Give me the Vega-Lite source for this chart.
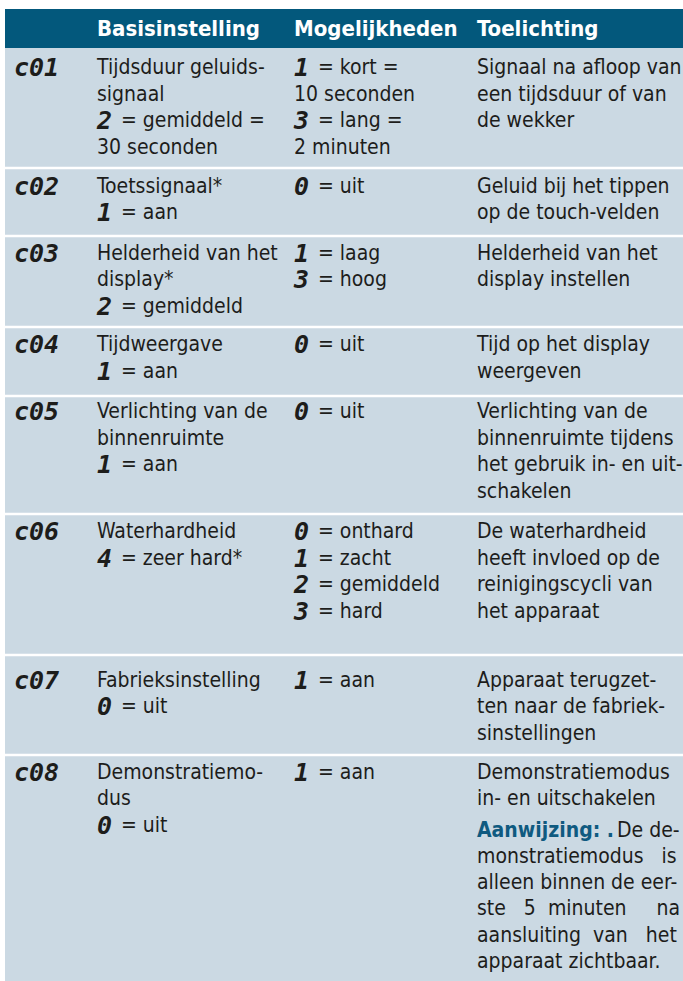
{
  "$schema": "https://vega.github.io/schema/vega-lite/v6.json",
  "width": 678,
  "height": 972,
  "autosize": {"type": "none"},
  "padding": {"left": 5, "top": 9, "right": 0, "bottom": 0},
  "background": "white",
  "config": {"view": {"stroke": null}},
  "datasets": {
    "rows": [
      {"setting": "header", "top": 0, "bottom": 1.47},
      {"setting": "c01", "top": 1.47, "bottom": 6.0},
      {"setting": "c02", "top": 6.0, "bottom": 8.57},
      {"setting": "c03", "top": 8.57, "bottom": 12.01},
      {"setting": "c04", "top": 12.01, "bottom": 14.61},
      {"setting": "c05", "top": 14.61, "bottom": 19.07},
      {"setting": "c06", "top": 19.07, "bottom": 24.39},
      {"setting": "c07", "top": 24.39, "bottom": 28.17},
      {"setting": "c08", "top": 28.17, "bottom": 36.7}
    ],
    "heads": [
      {"column": 1, "line": 0.74, "text": "Basisinstelling"},
      {"column": 2, "line": 0.74, "text": "Mogelijkheden"},
      {"column": 3, "line": 0.74, "text": "Toelichting"}
    ],
    "codes": [
      {"setting": "c01", "column": 0, "line": 2.23},
      {"setting": "c02", "column": 0, "line": 6.72},
      {"setting": "c03", "column": 0, "line": 9.25},
      {"setting": "c04", "column": 0, "line": 12.69},
      {"setting": "c05", "column": 0, "line": 15.22},
      {"setting": "c06", "column": 0, "line": 19.75},
      {"setting": "c07", "column": 0, "line": 25.37},
      {"setting": "c08", "column": 0, "line": 28.83}
    ],
    "cells": [
      {"setting": "c01", "column": 1, "line": 2.23, "digit": "", "lead": "", "text": "Tijdsduur geluids-"},
      {"setting": "c01", "column": 1, "line": 3.23, "digit": "", "lead": "", "text": "signaal"},
      {"setting": "c01", "column": 1, "line": 4.23, "digit": "2", "lead": "", "text": "= gemiddeld ="},
      {"setting": "c01", "column": 1, "line": 5.23, "digit": "", "lead": "", "text": "30 seconden"},
      {"setting": "c01", "column": 2, "line": 2.23, "digit": "1", "lead": "", "text": "= kort ="},
      {"setting": "c01", "column": 2, "line": 3.23, "digit": "", "lead": "", "text": "10 seconden"},
      {"setting": "c01", "column": 2, "line": 4.23, "digit": "3", "lead": "", "text": "= lang ="},
      {"setting": "c01", "column": 2, "line": 5.23, "digit": "", "lead": "", "text": "2 minuten"},
      {"setting": "c01", "column": 3, "line": 2.23, "digit": "", "lead": "", "text": "Signaal na afloop van"},
      {"setting": "c01", "column": 3, "line": 3.23, "digit": "", "lead": "", "text": "een tijdsduur of van"},
      {"setting": "c01", "column": 3, "line": 4.23, "digit": "", "lead": "", "text": "de wekker"},
      {"setting": "c02", "column": 1, "line": 6.72, "digit": "", "lead": "", "text": "Toetssignaal*"},
      {"setting": "c02", "column": 1, "line": 7.72, "digit": "1", "lead": "", "text": "= aan"},
      {"setting": "c02", "column": 2, "line": 6.72, "digit": "0", "lead": "", "text": "= uit"},
      {"setting": "c02", "column": 3, "line": 6.72, "digit": "", "lead": "", "text": "Geluid bij het tippen"},
      {"setting": "c02", "column": 3, "line": 7.72, "digit": "", "lead": "", "text": "op de touch-velden"},
      {"setting": "c03", "column": 1, "line": 9.25, "digit": "", "lead": "", "text": "Helderheid van het"},
      {"setting": "c03", "column": 1, "line": 10.25, "digit": "", "lead": "", "text": "display*"},
      {"setting": "c03", "column": 1, "line": 11.25, "digit": "2", "lead": "", "text": "= gemiddeld"},
      {"setting": "c03", "column": 2, "line": 9.25, "digit": "1", "lead": "", "text": "= laag"},
      {"setting": "c03", "column": 2, "line": 10.25, "digit": "3", "lead": "", "text": "= hoog"},
      {"setting": "c03", "column": 3, "line": 9.25, "digit": "", "lead": "", "text": "Helderheid van het"},
      {"setting": "c03", "column": 3, "line": 10.25, "digit": "", "lead": "", "text": "display instellen"},
      {"setting": "c04", "column": 1, "line": 12.69, "digit": "", "lead": "", "text": "Tijdweergave"},
      {"setting": "c04", "column": 1, "line": 13.69, "digit": "1", "lead": "", "text": "= aan"},
      {"setting": "c04", "column": 2, "line": 12.69, "digit": "0", "lead": "", "text": "= uit"},
      {"setting": "c04", "column": 3, "line": 12.69, "digit": "", "lead": "", "text": "Tijd op het display"},
      {"setting": "c04", "column": 3, "line": 13.69, "digit": "", "lead": "", "text": "weergeven"},
      {"setting": "c05", "column": 1, "line": 15.22, "digit": "", "lead": "", "text": "Verlichting van de"},
      {"setting": "c05", "column": 1, "line": 16.22, "digit": "", "lead": "", "text": "binnenruimte"},
      {"setting": "c05", "column": 1, "line": 17.22, "digit": "1", "lead": "", "text": "= aan"},
      {"setting": "c05", "column": 2, "line": 15.22, "digit": "0", "lead": "", "text": "= uit"},
      {"setting": "c05", "column": 3, "line": 15.22, "digit": "", "lead": "", "text": "Verlichting van de"},
      {"setting": "c05", "column": 3, "line": 16.22, "digit": "", "lead": "", "text": "binnenruimte tijdens"},
      {"setting": "c05", "column": 3, "line": 17.22, "digit": "", "lead": "", "text": "het gebruik in- en uit-"},
      {"setting": "c05", "column": 3, "line": 18.22, "digit": "", "lead": "", "text": "schakelen"},
      {"setting": "c06", "column": 1, "line": 19.75, "digit": "", "lead": "", "text": "Waterhardheid"},
      {"setting": "c06", "column": 1, "line": 20.75, "digit": "4", "lead": "", "text": "= zeer hard*"},
      {"setting": "c06", "column": 2, "line": 19.75, "digit": "0", "lead": "", "text": "= onthard"},
      {"setting": "c06", "column": 2, "line": 20.75, "digit": "1", "lead": "", "text": "= zacht"},
      {"setting": "c06", "column": 2, "line": 21.75, "digit": "2", "lead": "", "text": "= gemiddeld"},
      {"setting": "c06", "column": 2, "line": 22.75, "digit": "3", "lead": "", "text": "= hard"},
      {"setting": "c06", "column": 3, "line": 19.75, "digit": "", "lead": "", "text": "De waterhardheid"},
      {"setting": "c06", "column": 3, "line": 20.75, "digit": "", "lead": "", "text": "heeft invloed op de"},
      {"setting": "c06", "column": 3, "line": 21.75, "digit": "", "lead": "", "text": "reinigingscycli van"},
      {"setting": "c06", "column": 3, "line": 22.75, "digit": "", "lead": "", "text": "het apparaat"},
      {"setting": "c07", "column": 1, "line": 25.37, "digit": "", "lead": "", "text": "Fabrieksinstelling"},
      {"setting": "c07", "column": 1, "line": 26.37, "digit": "0", "lead": "", "text": "= uit"},
      {"setting": "c07", "column": 2, "line": 25.37, "digit": "1", "lead": "", "text": "= aan"},
      {"setting": "c07", "column": 3, "line": 25.37, "digit": "", "lead": "", "text": "Apparaat terugzet-"},
      {"setting": "c07", "column": 3, "line": 26.37, "digit": "", "lead": "", "text": "ten naar de fabriek-"},
      {"setting": "c07", "column": 3, "line": 27.37, "digit": "", "lead": "", "text": "sinstellingen"},
      {"setting": "c08", "column": 1, "line": 28.83, "digit": "", "lead": "", "text": "Demonstratiemo-"},
      {"setting": "c08", "column": 1, "line": 29.83, "digit": "", "lead": "", "text": "dus"},
      {"setting": "c08", "column": 1, "line": 30.83, "digit": "0", "lead": "", "text": "= uit"},
      {"setting": "c08", "column": 2, "line": 28.83, "digit": "1", "lead": "", "text": "= aan"},
      {"setting": "c08", "column": 3, "line": 28.83, "digit": "", "lead": "", "text": "Demonstratiemodus"},
      {"setting": "c08", "column": 3, "line": 29.83, "digit": "", "lead": "", "text": "in- en uitschakelen"},
      {"setting": "c08", "column": 3, "line": 31.04, "digit": "", "lead": "Aanwijzing: .", "text": "De de-"},
      {"setting": "c08", "column": 3, "line": 32.02, "digit": "", "lead": "", "text": "monstratiemodus\u00a0\u00a0\u00a0is"},
      {"setting": "c08", "column": 3, "line": 33.0, "digit": "", "lead": "", "text": "alleen binnen de eer-"},
      {"setting": "c08", "column": 3, "line": 34.0, "digit": "", "lead": "", "text": "ste\u00a0\u00a0\u00a05\u00a0\u00a0minuten\u00a0\u00a0\u00a0\u00a0\u00a0na"},
      {"setting": "c08", "column": 3, "line": 35.0, "digit": "", "lead": "", "text": "aansluiting\u00a0\u00a0van\u00a0\u00a0\u00a0het"},
      {"setting": "c08", "column": 3, "line": 35.98, "digit": "", "lead": "", "text": "apparaat zichtbaar."}
    ]
  },
  "layer": [
    {
      "data": {"name": "rows"},
      "mark": {"type": "rect"},
      "encoding": {
        "y": {"field": "top", "type": "quantitative", "axis": null, "scale": {"domain": [0, 36.7], "reverse": true, "nice": false, "zero": false}},
        "y2": {"field": "bottom"},
        "color": {"condition": {"test": "datum.setting === 'header'", "value": "#03587c"}, "value": "#cbd9e3"}
      }
    },
    {
      "data": {"name": "rows"},
      "transform": [{"filter": "datum.setting !== 'header' && datum.setting !== 'c01'"}],
      "mark": {"type": "rule", "color": "white", "strokeWidth": 2.5},
      "encoding": {
        "y": {"field": "top", "type": "quantitative", "axis": null, "scale": {"domain": [0, 36.7], "reverse": true, "nice": false, "zero": false}}
      }
    },
    {
      "data": {"name": "heads"},
      "mark": {"type": "text", "align": "left", "baseline": "middle", "font": "DejaVu Sans Condensed, DejaVu Sans, sans-serif", "fontWeight": "bold", "fontSize": 22, "color": "white"},
      "encoding": {
        "x": {"field": "column", "type": "quantitative", "axis": null, "scale": {"domain": [0, 1, 2, 3], "range": [9, 92, 289, 472], "nice": false, "zero": false}},
        "y": {"field": "line", "type": "quantitative", "axis": null, "scale": {"domain": [0, 36.7], "reverse": true, "nice": false, "zero": false}},
        "text": {"field": "text"}
      }
    },
    {
      "data": {"name": "codes"},
      "mark": {"type": "text", "align": "left", "baseline": "middle", "font": "DejaVu Sans Mono", "fontWeight": "bold", "fontStyle": "italic", "fontSize": 25, "color": "#1d1d1b"},
      "encoding": {
        "x": {"field": "column", "type": "quantitative", "axis": null, "scale": {"domain": [0, 1, 2, 3], "range": [9, 92, 289, 472], "nice": false, "zero": false}},
        "y": {"field": "line", "type": "quantitative", "axis": null, "scale": {"domain": [0, 36.7], "reverse": true, "nice": false, "zero": false}},
        "text": {"field": "setting"}
      }
    },
    {
      "data": {"name": "cells"},
      "transform": [{"filter": "datum.digit === '' && datum.lead === ''"}],
      "mark": {"type": "text", "align": "left", "baseline": "middle", "font": "DejaVu Sans Condensed, DejaVu Sans, sans-serif", "fontSize": 21, "color": "#1d1d1b"},
      "encoding": {
        "x": {"field": "column", "type": "quantitative", "axis": null, "scale": {"domain": [0, 1, 2, 3], "range": [9, 92, 289, 472], "nice": false, "zero": false}},
        "y": {"field": "line", "type": "quantitative", "axis": null, "scale": {"domain": [0, 36.7], "reverse": true, "nice": false, "zero": false}},
        "text": {"field": "text"}
      }
    },
    {
      "data": {"name": "cells"},
      "transform": [{"filter": "datum.digit !== ''"}],
      "mark": {"type": "text", "align": "left", "baseline": "middle", "font": "DejaVu Sans Mono", "fontWeight": "bold", "fontStyle": "italic", "fontSize": 25, "color": "#1d1d1b"},
      "encoding": {
        "x": {"field": "column", "type": "quantitative", "axis": null, "scale": {"domain": [0, 1, 2, 3], "range": [9, 92, 289, 472], "nice": false, "zero": false}},
        "y": {"field": "line", "type": "quantitative", "axis": null, "scale": {"domain": [0, 36.7], "reverse": true, "nice": false, "zero": false}},
        "text": {"field": "digit"}
      }
    },
    {
      "data": {"name": "cells"},
      "transform": [{"filter": "datum.digit !== ''"}],
      "mark": {"type": "text", "align": "left", "baseline": "middle", "dx": 24, "font": "DejaVu Sans Condensed, DejaVu Sans, sans-serif", "fontSize": 21, "color": "#1d1d1b"},
      "encoding": {
        "x": {"field": "column", "type": "quantitative", "axis": null, "scale": {"domain": [0, 1, 2, 3], "range": [9, 92, 289, 472], "nice": false, "zero": false}},
        "y": {"field": "line", "type": "quantitative", "axis": null, "scale": {"domain": [0, 36.7], "reverse": true, "nice": false, "zero": false}},
        "text": {"field": "text"}
      }
    },
    {
      "data": {"name": "cells"},
      "transform": [{"filter": "datum.lead !== ''"}],
      "mark": {"type": "text", "align": "left", "baseline": "middle", "font": "DejaVu Sans Condensed, DejaVu Sans, sans-serif", "fontWeight": "bold", "fontSize": 21, "color": "#0f5a80"},
      "encoding": {
        "x": {"field": "column", "type": "quantitative", "axis": null, "scale": {"domain": [0, 1, 2, 3], "range": [9, 92, 289, 472], "nice": false, "zero": false}},
        "y": {"field": "line", "type": "quantitative", "axis": null, "scale": {"domain": [0, 36.7], "reverse": true, "nice": false, "zero": false}},
        "text": {"field": "lead"}
      }
    },
    {
      "data": {"name": "cells"},
      "transform": [{"filter": "datum.lead !== ''"}],
      "mark": {"type": "text", "align": "left", "baseline": "middle", "dx": 140, "font": "DejaVu Sans Condensed, DejaVu Sans, sans-serif", "fontSize": 21, "color": "#1d1d1b"},
      "encoding": {
        "x": {"field": "column", "type": "quantitative", "axis": null, "scale": {"domain": [0, 1, 2, 3], "range": [9, 92, 289, 472], "nice": false, "zero": false}},
        "y": {"field": "line", "type": "quantitative", "axis": null, "scale": {"domain": [0, 36.7], "reverse": true, "nice": false, "zero": false}},
        "text": {"field": "text"}
      }
    }
  ]
}
